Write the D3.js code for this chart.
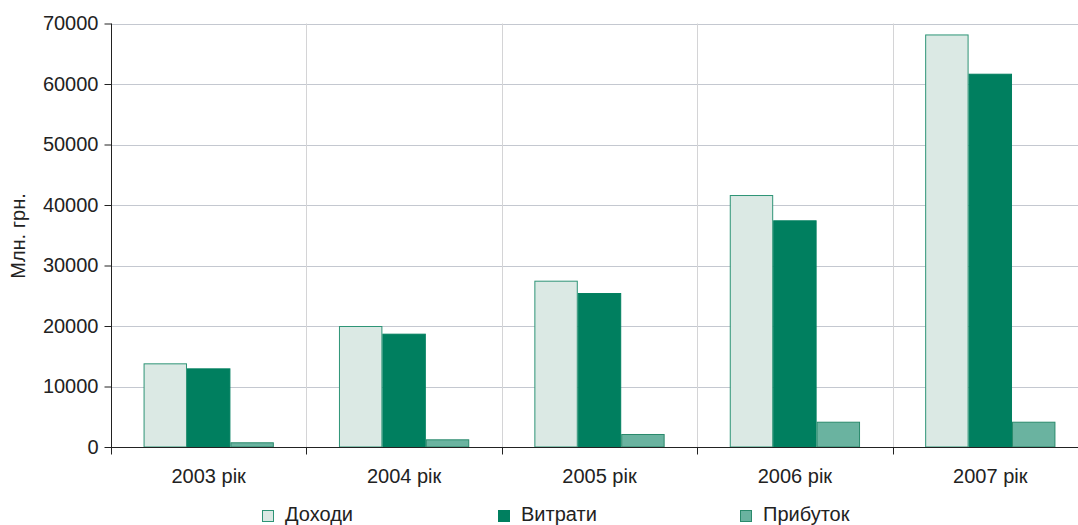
<!DOCTYPE html>
<html>
<head>
<meta charset="utf-8">
<script src="https://cdn.jsdelivr.net/npm/d3@7"></script>
<style>
  html, body { margin: 0; padding: 0; background: #fff; }
  svg { display: block; font-family: "Liberation Sans", Arial, sans-serif; }
</style>
</head>
<body>
<svg id="chart" width="1078" height="525"></svg>
<script>
const categories = ["2003 рік", "2004 рік", "2005 рік", "2006 рік", "2007 рік"];
const seriesNames = ["Доходи", "Витрати", "Прибуток"];
const income = [13830, 20000, 27490, 41650, 68190];
const expenses = [13000, 18730, 25450, 37470, 61700];
const profit = [780, 1270, 2150, 4180, 4180];
const yTicks = [0, 10000, 20000, 30000, 40000, 50000, 60000, 70000];
const yLabel = "Млн. грн.";

const fills = ["#dbe9e4", "#007f5f", "#6ab3a0"];
const strokes = ["#2e9476", "#007f5f", "#2a8a6c"];

const svg = d3.select("#chart");
const mLeft = 111, mRight = 1088, mTop = 23.5, mBottom = 447;

const x0 = d3.scaleBand().domain(categories).range([mLeft, mRight]).paddingInner(0).paddingOuter(0);
const bw = x0.bandwidth();
const x1 = d3.scaleBand().domain(seriesNames).range([bw / 6, bw * 5 / 6]).padding(0);
const y = d3.scaleLinear().domain([0, 70000]).range([mBottom, mTop]);

// horizontal gridlines
svg.append("g").selectAll("line").data(yTicks.filter(d => d > 0)).join("line")
  .attr("x1", mLeft).attr("x2", mRight)
  .attr("y1", d => Math.round(y(d)) + 0.5).attr("y2", d => Math.round(y(d)) + 0.5)
  .attr("stroke", "#c4c8d0").attr("stroke-width", 1);

// vertical gridlines at band boundaries
svg.append("g").selectAll("line").data(categories.slice(1)).join("line")
  .attr("x1", d => Math.round(x0(d)) + 0.5).attr("x2", d => Math.round(x0(d)) + 0.5)
  .attr("y1", mTop).attr("y2", mBottom)
  .attr("stroke", "#d4d4d6").attr("stroke-width", 1);

const rows = categories.map((c, i) => ({ cat: c, vals: [income[i], expenses[i], profit[i]] }));

const groups = svg.append("g").selectAll("g").data(rows).join("g")
  .attr("transform", d => `translate(${x0(d.cat)},0)`);

groups.selectAll("rect").data(d => d.vals.map((v, k) => ({ key: seriesNames[k], v, k }))).join("rect")
  .attr("x", d => x1(d.key) + 0.5)
  .attr("y", d => y(d.v) + 0.5)
  .attr("width", x1.bandwidth() - 1)
  .attr("height", d => Math.max(0, y(0) - y(d.v) - 0.5))
  .attr("fill", d => fills[d.k])
  .attr("stroke", d => strokes[d.k])
  .attr("stroke-width", 1);

// y axis
const yAxis = d3.axisLeft(y).tickValues(yTicks).tickSize(7).tickPadding(6).tickFormat(d3.format("d"));
const gy = svg.append("g").attr("transform", `translate(${mLeft + 0.5},0)`).call(yAxis);
gy.select(".domain").attr("stroke", "#222").attr("d", `M0,${mTop}V${mBottom}`);
gy.selectAll(".tick line").attr("stroke", "#222");
gy.selectAll(".tick text").attr("font-size", 20).attr("fill", "#222")
  .attr("font-family", "'Liberation Sans', Arial, sans-serif");

// x axis with ticks at boundaries
const boundaries = categories.map(c => x0(c));
const gx = svg.append("g").attr("transform", `translate(0,${mBottom + 0.5})`);
gx.append("line").attr("x1", mLeft).attr("x2", mRight).attr("stroke", "#222");
gx.selectAll("line.tk").data(boundaries).join("line").attr("class", "tk")
  .attr("x1", d => Math.round(d) + 0.5).attr("x2", d => Math.round(d) + 0.5)
  .attr("y1", 0).attr("y2", 7).attr("stroke", "#222");
gx.selectAll("text").data(categories).join("text")
  .attr("x", d => x0(d) + bw / 2).attr("y", 35)
  .attr("text-anchor", "middle").attr("font-size", 20).attr("fill", "#222")
  .text(d => d);

// y label
svg.append("text").attr("transform", `translate(25,236) rotate(-90)`)
  .attr("text-anchor", "middle").attr("font-size", 20).attr("fill", "#222").text(yLabel);

// legend
const legendX = [262, 498, 740];
const lg = svg.append("g").selectAll("g").data(seriesNames).join("g")
  .attr("transform", (d, i) => `translate(${legendX[i]},0)`);
lg.append("rect").attr("x", 0.5).attr("y", 510.5).attr("width", 11).attr("height", 11)
  .attr("fill", (d, i) => fills[i]).attr("stroke", (d, i) => strokes[i]);
lg.append("text").attr("x", 23).attr("y", 521).attr("font-size", 20).attr("fill", "#222").text(d => d);
</script>
</body>
</html>
